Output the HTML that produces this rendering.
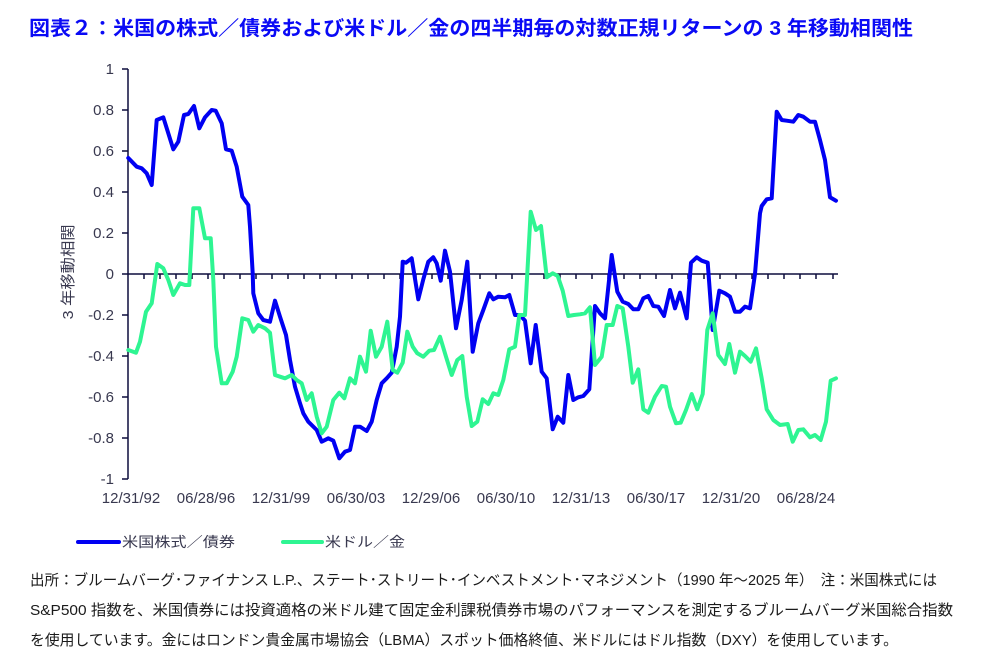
<!DOCTYPE html>
<html><head><meta charset="utf-8">
<style>
html,body{margin:0;padding:0;background:#fff;}
body{width:1008px;height:669px;overflow:hidden;position:relative;}
svg{position:absolute;left:0;top:0;}
</style></head>
<body>
<svg width="1008" height="669" viewBox="0 0 1008 669" xmlns="http://www.w3.org/2000/svg">
<text x="29" y="35" font-family="Liberation Sans, Noto Sans CJK JP, sans-serif" font-size="20" font-weight="bold" fill="#0a0af5" textLength="884" lengthAdjust="spacingAndGlyphs">図表２：米国の株式／債券および米ドル／金の四半期毎の対数正規リターンの 3 年移動相関性</text>

<g font-family="Liberation Sans, Noto Sans CJK JP, sans-serif" font-size="15" fill="#38384f" text-anchor="end">
<text x="114" y="74">1</text>
<text x="114" y="115">0.8</text>
<text x="114" y="156">0.6</text>
<text x="114" y="197">0.4</text>
<text x="114" y="238">0.2</text>
<text x="114" y="279">0</text>
<text x="114" y="320">-0.2</text>
<text x="114" y="361">-0.4</text>
<text x="114" y="402">-0.6</text>
<text x="114" y="443">-0.8</text>
<text x="114" y="484">-1</text>
</g>
<text transform="translate(73,272) rotate(-90)" font-family="Liberation Sans, Noto Sans CJK JP, sans-serif" font-size="15" fill="#38384f" text-anchor="middle" textLength="95" lengthAdjust="spacingAndGlyphs">3 年移動相関</text>

<g font-family="Liberation Sans, Noto Sans CJK JP, sans-serif" font-size="15" fill="#38384f" text-anchor="middle">
<text x="131" y="503">12/31/92</text>
<text x="206" y="503">06/28/96</text>
<text x="281" y="503">12/31/99</text>
<text x="356" y="503">06/30/03</text>
<text x="431" y="503">12/29/06</text>
<text x="506" y="503">06/30/10</text>
<text x="581" y="503">12/31/13</text>
<text x="656" y="503">06/30/17</text>
<text x="731" y="503">12/31/20</text>
<text x="806" y="503">06/28/24</text>
</g>

<g stroke="#0d0d3d" stroke-width="1.5" fill="none">
<line x1="128" y1="69" x2="128" y2="479"/>
<line x1="128" y1="274" x2="838" y2="274"/>
<path d="M122 69H128M122 110H128M122 151H128M122 192H128M122 233H128M122 274H128M122 315H128M122 356H128M122 397H128M122 438H128M122 479H128"/>
<path d="M144 274v5M160 274v5M176 274v5M192 274v5M208 274v5M224 274v5M240 274v5M256 274v5M272 274v5M288 274v5M304 274v5M320 274v5M336 274v5M352 274v5M368 274v5M384 274v5M400 274v5M416 274v5M432 274v5M448 274v5M464 274v5M480 274v5M496 274v5M512 274v5M528 274v5M544 274v5M560 274v5M576 274v5M592 274v5M608 274v5M624 274v5M640 274v5M656 274v5M672 274v5M688 274v5M704 274v5M720 274v5M736 274v5M752 274v5M768 274v5M784 274v5M800 274v5M816 274v5M833 274v5"/>
</g>

<polyline fill="none" stroke="#0000f2" stroke-width="4" stroke-linejoin="round" stroke-linecap="round" points="128.3,158 136.7,166.7 141.7,168.3 146.7,173.3 151.7,185 156.7,120 163.3,117.3 173.3,149.3 178.3,141.7 184,115 188.3,114 194,106 199.3,128.3 205,117.3 211.7,110 215.7,110.7 221.7,123.3 226,149.3 231.7,150.7 236.7,166.7 242.3,196.7 248.3,205 250,226.7 252.7,273.3 253.3,293.3 258.3,313.3 263.3,320 270,321.7 275,300.7 280,316.7 286,335 290,360 295,386.7 300,403.3 303.3,413.3 308.3,421.7 316.7,430 321.7,441.7 328.3,438.3 333.3,440.7 339.3,458.3 345,451.7 350,450 355,426.7 360,426.7 366.7,431 371.7,421.7 376.7,400 381.7,383.3 386.7,378.3 391.7,372.7 396.7,346.7 400,316.7 402.7,261.7 406,262.7 411.7,258.3 418.3,299.3 423.3,279.3 428.3,261.7 433.3,257.3 436.7,263.3 440.7,280.7 445,250.7 450,271.7 456,328.3 461.7,300 467.3,261.7 472.7,351.7 478.3,323.3 483.3,310 489.3,293.3 493.3,299.3 498.3,296.7 505,297.3 509.3,295 515,315 520,315 525,320.7 530.7,363.3 535.7,325 541.7,371.7 546.7,378.3 552.7,429.3 557.7,416.7 563.3,422.7 568.3,375 573.3,400 578.3,397.3 583.3,396 589.3,389.3 595,306 600,313.3 605,318.3 611.7,255 617.3,291.7 622.7,301.7 628.3,304 633.3,309.3 638.3,309.3 643.3,298.3 648.3,296 653.3,306 658.3,306.7 664,316 670,290 675,308.3 680,292.7 686.7,318.3 691,262.7 696.7,257.3 701.7,260.7 707.7,262.7 712.7,330 719.3,290.7 725,293.3 730,296.7 735,311.7 740,311.7 745,306.7 750,308.3 755,274 760,213.3 761.7,206 766.7,199.3 771.7,198.3 776.7,111.7 781.7,120 786.7,120.7 793.3,121.7 798.3,115 803.3,116.7 810,121.7 815,121.7 820,140 825,160 830,197.3 836,200.7"/>

<polyline fill="none" stroke="#2ef592" stroke-width="4" stroke-linejoin="round" stroke-linecap="round" points="128.3,350 136,352.7 140,341.7 146,311.7 151.7,303.3 157.3,264 163.3,268.3 168.3,280 173.3,295 180,283.3 185,285 189.3,285 193.3,208.3 199.3,208.3 205,238.3 210.7,238.3 213.3,280 216,346.7 221.7,383.3 226.7,383.3 232.7,371.7 236.7,356.7 242.3,318.3 248.3,320 253.3,331.7 258.3,325 265,328.3 270,332.7 275,375 280,376.7 285,378.3 291.7,375 296.7,380 301.7,383.3 306.7,400 311.7,393.3 316.7,416.7 321.7,433.3 326.7,426.7 333.3,400 339.3,392.7 344.3,398.3 350,378.3 355,383.3 360,356.7 366,371.7 370.7,330.7 376,356.7 381.7,346.7 387.3,321.7 392.7,370 397.3,372.7 402.7,362.7 407.3,331.7 412.7,346.7 417.3,353.3 423.3,356.7 429.3,350.7 434,350 440,336.7 446,356.7 451.7,375 457.3,360 462.3,356 466.7,396.7 471.7,426 477.3,421.7 482.7,399.3 488.3,404 493.3,393.3 498.3,395 503.3,380 509.3,349.3 515,346.7 519.3,315 525,315 530.7,211.7 536,230 541,226 546.7,277.3 552.7,273.3 557.7,276 562.7,290.7 568.3,316 574,315 580,314.3 585,313.3 590,307.3 595,365 601.7,356.7 606.7,325 612.7,325 617.3,306 622.7,308.3 628.3,346.7 632.7,382.7 638.3,369.3 643.3,409.3 648.3,412.7 655,396.7 661.7,386 666,386.7 670,406.7 676,423.3 680.7,422.7 686,410 691.7,394 697.3,409.3 702.7,394 707.3,330 712.7,313.3 718.3,355 725,364 729.3,344 735,372.7 740,351.7 745,356 750.7,361.7 756,348.3 761.7,378.3 766.7,409.3 773.3,420 780,425 787.7,424 792.7,441.7 798.3,430 803.3,429.3 810,437.3 815,435 820.7,440 826,421.7 830.7,380.7 836,378.3"/>

<line x1="78" y1="542" x2="119" y2="542" stroke="#0000f2" stroke-width="4" stroke-linecap="round"/>
<line x1="283" y1="542" x2="322" y2="542" stroke="#2ef592" stroke-width="4" stroke-linecap="round"/>
<g font-family="Liberation Sans, Noto Sans CJK JP, sans-serif" font-size="14" fill="#38384f">
<text x="122" y="547" textLength="113" lengthAdjust="spacingAndGlyphs">米国株式／債券</text>
<text x="325" y="547" textLength="80" lengthAdjust="spacingAndGlyphs">米ドル／金</text>
</g>

<g font-family="Liberation Sans, Noto Sans CJK JP, sans-serif" font-size="15" fill="#1a1a1a">
<text x="30" y="585" textLength="907" lengthAdjust="spacingAndGlyphs">出所：ブルームバーグ･ファイナンス L.P.、ステート･ストリート･インベストメント･マネジメント（1990 年～2025 年）　注：米国株式には</text>
<text x="30" y="615" textLength="923" lengthAdjust="spacingAndGlyphs">S&amp;P500 指数を、米国債券には投資適格の米ドル建て固定金利課税債券市場のパフォーマンスを測定するブルームバーグ米国総合指数</text>
<text x="30" y="645" textLength="868" lengthAdjust="spacingAndGlyphs">を使用しています。金にはロンドン貴金属市場協会（LBMA）スポット価格終値、米ドルにはドル指数（DXY）を使用しています。</text>
</g>
</svg>
</body></html>
